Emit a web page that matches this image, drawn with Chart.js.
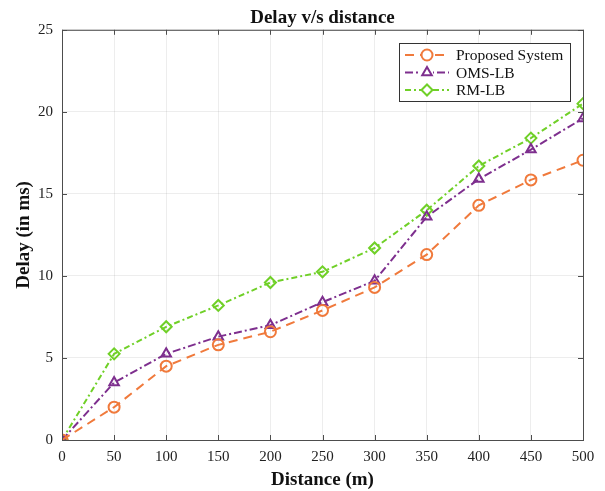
<!DOCTYPE html>
<html>
<head>
<meta charset="utf-8">
<script src="https://cdn.jsdelivr.net/npm/chart.js@4/dist/chart.umd.min.js"></script>
<style>
  html,body{margin:0;padding:0;background:#fff;}
  #wrap{width:605px;height:491px;}
</style>
</head>
<body>
<div id="wrap"><canvas id="c"></canvas></div>
<script>
// data
const distances = [0, 50, 100, 150, 200, 250, 300, 350, 400, 450, 500];
const proposed  = [0, 2.0, 4.5, 5.8, 6.6, 7.9, 9.3, 11.3, 14.3, 15.85, 17.05];
const omsLb     = [0, 3.5, 5.25, 6.3, 7.0, 8.4, 9.7, 13.6, 15.9, 17.7, 19.6];
const rmLb      = [0, 5.25, 6.9, 8.2, 9.6, 10.25, 11.7, 14.0, 16.7, 18.4, 20.5];
const seriesNames = ['Proposed System', 'OMS-LB', 'RM-LB'];

const serif = '"Liberation Serif", "Times New Roman", serif';
const orange = 'rgb(240,122,60)', purple = 'rgb(126,47,142)', green = 'rgb(112,208,40)';

function mk(label, vals, color, style, dash) {
  return {
    label, data: distances.map((d,i)=>({x:d, y:vals[i]})),
    borderColor: color, borderWidth: 2, borderDash: dash,
    pointStyle: style, pointRadius: 5.5, pointBorderWidth: 2,
    pointBorderColor: color, pointBackgroundColor: 'rgba(0,0,0,0)',
    fill: false, tension: 0
  };
}

// box, inner ticks and legend the way MATLAB draws them
const matlabBits = {
  id: 'matlabBits',
  afterDatasetsDraw(chart) {
    const {ctx, chartArea: a, scales} = chart;
    ctx.save();
    ctx.strokeStyle = '#4d4d4d'; ctx.lineWidth = 1;
    ctx.strokeRect(a.left + 0.5, a.top + 0.5, a.right - a.left, a.bottom - a.top);
    ctx.beginPath();
    distances.forEach(d => {
      const x = Math.round(scales.x.getPixelForValue(d)) + 0.5;
      ctx.moveTo(x, a.bottom); ctx.lineTo(x, a.bottom - 5);
      ctx.moveTo(x, a.top); ctx.lineTo(x, a.top + 5);
    });
    scales.y.ticks.forEach(t => {
      const y = Math.round(scales.y.getPixelForValue(t.value)) + 0.5;
      ctx.moveTo(a.left, y); ctx.lineTo(a.left + 5, y);
      ctx.moveTo(a.right, y); ctx.lineTo(a.right - 5, y);
    });
    ctx.stroke();

    // legend
    const bx = 399, by = 43, bw = 171, bh = 58;
    ctx.fillStyle = '#fff';
    ctx.fillRect(bx, by, bw, bh);
    ctx.strokeStyle = '#333';
    ctx.strokeRect(bx + 0.5, by + 0.5, bw, bh);
    ctx.font = '15.5px ' + serif;
    ctx.textBaseline = 'middle';
    chart.data.datasets.forEach((ds, i) => {
      const y = by + 12 + i * 17.5;
      ctx.strokeStyle = ds.borderColor; ctx.lineWidth = 2;
      ctx.setLineDash(ds.borderDash);
      ctx.beginPath(); ctx.moveTo(bx + 6, y); ctx.lineTo(bx + 50, y); ctx.stroke();
      ctx.setLineDash([]);
      ctx.fillStyle = '#fff';
      ctx.fillRect(bx + 22, y - 6, 12, 12);
      ctx.strokeStyle = ds.borderColor;
      ctx.fillStyle = 'rgba(0,0,0,0)';
      Chart.helpers.drawPoint(ctx, {pointStyle: ds.pointStyle, radius: 5.5, borderWidth: 2, rotation: 0}, bx + 28, y);
      ctx.fillStyle = '#111';
      ctx.fillText(ds.label, bx + 57, y + 1);
    });
    ctx.restore();
  }
};

new Chart(document.getElementById('c'), {
  type: 'line',
  data: {
    datasets: [
      mk(seriesNames[0], proposed, orange, 'circle', [9, 6]),
      mk(seriesNames[1], omsLb, purple, 'triangle', [8, 3, 2, 3]),
      mk(seriesNames[2], rmLb, green, 'rectRot', [6, 3, 2, 3])
    ]
  },
  options: {
    responsive: true, maintainAspectRatio: false, animation: false,
    layout: {padding: {left: 11, right: 22, top: 0, bottom: 0}},
    plugins: {
      legend: {display: false},
      tooltip: {enabled: false},
      title: {
        display: true, text: 'Delay v/s distance', fullSize: false,
        color: '#111', font: {family: serif, size: 19, weight: 'bold'},
        padding: {top: 7, bottom: 0}
      }
    },
    scales: {
      x: {
        type: 'linear', min: 0, max: 500,
        ticks: {stepSize: 50, color: '#222', font: {family: serif, size: 15}, padding: 8},
        grid: {color: 'rgba(0,0,0,0.07)', drawTicks: false},
        border: {display: false},
        title: {display: true, text: 'Distance (m)', color: '#111',
                font: {family: serif, size: 19, weight: 'bold'}, padding: {top: 2, bottom: 0}},
        afterFit(s) { s.height = 51; }
      },
      y: {
        min: 0, max: 25,
        ticks: {stepSize: 5, color: '#222', font: {family: serif, size: 15}, padding: 9},
        grid: {color: 'rgba(0,0,0,0.07)', drawTicks: false},
        border: {display: false},
        title: {display: true, text: 'Delay (in ms)', color: '#111',
                font: {family: serif, size: 19, weight: 'bold'}, padding: {top: 2, bottom: 2}},
        afterFit(s) { s.width = 51; }
      }
    }
  },
  plugins: [matlabBits]
});
</script>
</body>
</html>
